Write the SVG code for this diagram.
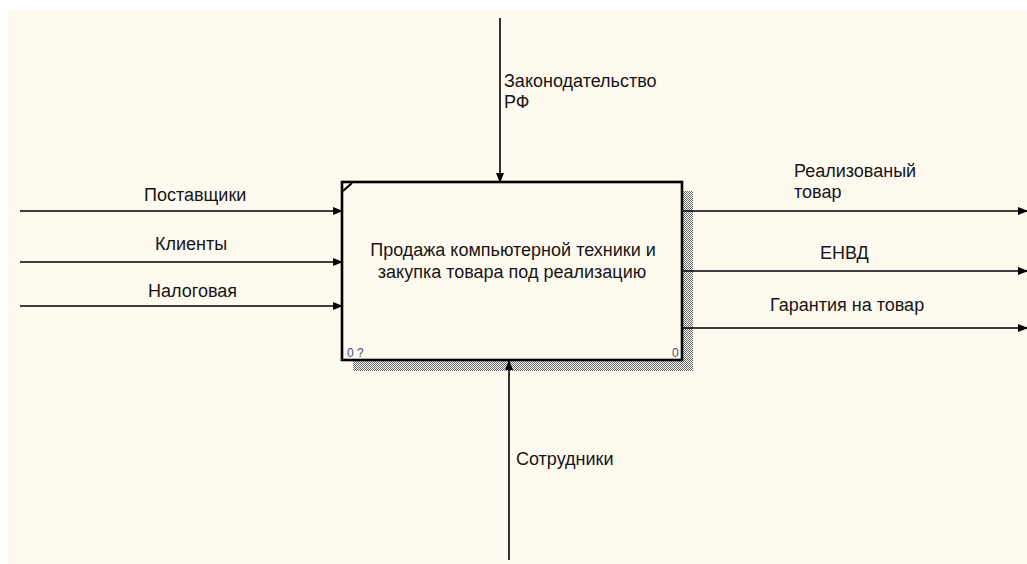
<svg xmlns="http://www.w3.org/2000/svg" width="1027" height="564" viewBox="0 0 1027 564">
<style>
.t{font-family:"Liberation Sans",Arial,sans-serif;font-size:18px;fill:#151515}
.s{font-family:"Liberation Sans",Arial,sans-serif;font-size:12px;fill:#3f4f72}
.c{stroke:#000;stroke-width:1.6;fill:none}
</style>
<defs>
<pattern id="chk" width="2" height="2" patternUnits="userSpaceOnUse">
<rect width="2" height="2" fill="#fff"/>
<rect width="1" height="1" fill="#666"/>
<rect x="1" y="1" width="1" height="1" fill="#666"/>
</pattern>
<marker id="ah" markerWidth="10" markerHeight="8" refX="9" refY="4" orient="auto" markerUnits="userSpaceOnUse">
<path d="M0,0 L10,4 L0,8 Z" fill="#000"/>
</marker>
</defs>
<rect x="0" y="0" width="1027" height="564" fill="#fff"/>
<rect x="8" y="10" width="1019" height="554" fill="#fffaf0"/>
<g id="node-main">
<rect x="683" y="191" width="10" height="180" fill="url(#chk)"/>
<rect x="353" y="361" width="340" height="10" fill="url(#chk)"/>
<rect x="342" y="182" width="340" height="178" fill="#fffaf0" stroke="#000" stroke-width="2.6"/>
<path d="M343,191 L352,183" stroke="#000" stroke-width="2.2" fill="none"/>
<text class="t" x="513" y="256" text-anchor="middle">Продажа компьютерной техники и</text>
<text class="t" x="512" y="278" text-anchor="middle">закупка товара под реализацию</text>
<text class="s" x="347" y="357">0 ?</text>
<text class="s" x="672" y="357">0</text>
</g>
<g id="connectors">
<line class="c" x1="20" y1="211" x2="342" y2="211" marker-end="url(#ah)"/>
<line class="c" x1="20" y1="262" x2="342" y2="262" marker-end="url(#ah)"/>
<line class="c" x1="20" y1="306" x2="342" y2="306" marker-end="url(#ah)"/>
<line class="c" x1="500" y1="18" x2="500" y2="182" marker-end="url(#ah)"/>
<line class="c" x1="509" y1="560" x2="509" y2="361" marker-end="url(#ah)"/>
<line class="c" x1="683" y1="211" x2="1027" y2="211" marker-end="url(#ah)"/>
<line class="c" x1="683" y1="271" x2="1027" y2="271" marker-end="url(#ah)"/>
<line class="c" x1="683" y1="328" x2="1027" y2="328" marker-end="url(#ah)"/>
</g>
<g id="labels">
<text class="t" x="144" y="201">Поставщики</text>
<text class="t" x="155" y="250">Клиенты</text>
<text class="t" x="148" y="297">Налоговая</text>
<text class="t" x="504" y="87">Законодательство</text>
<text class="t" x="504" y="108">РФ</text>
<text class="t" x="794" y="177">Реализованый</text>
<text class="t" x="794" y="198">товар</text>
<text class="t" x="820" y="259">ЕНВД</text>
<text class="t" x="770" y="311">Гарантия на товар</text>
<text class="t" x="516" y="465">Сотрудники</text>
</g>
</svg>
